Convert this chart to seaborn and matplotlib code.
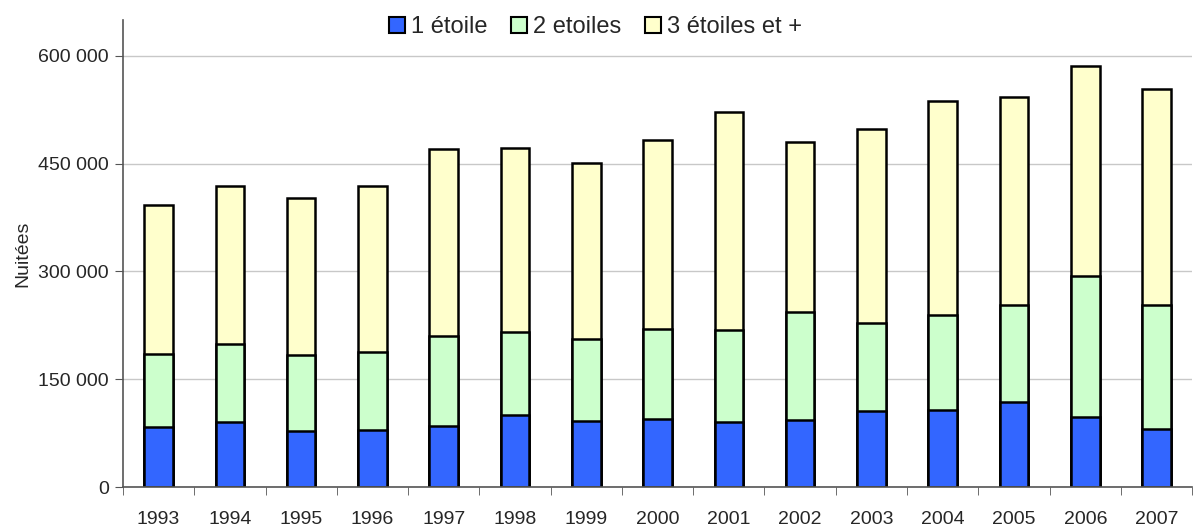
import matplotlib
matplotlib.use("Agg")
import matplotlib.pyplot as plt
import matplotlib.ticker as mticker
import pandas as pd
import seaborn as sns

years = ["1993", "1994", "1995", "1996", "1997", "1998", "1999", "2000",
         "2001", "2002", "2003", "2004", "2005", "2006", "2007"]
une_etoile = [83500, 90500, 78000, 78900, 84900, 99800, 91900, 95100,
              90500, 93700, 105300, 107600, 118300, 97400, 81200]
deux_etoiles = [101200, 109000, 106200, 109100, 125300, 116000, 114600, 124400,
                127600, 149900, 123000, 131800, 135000, 196300, 171700]
trois_etoiles = [207300, 219000, 218600, 230500, 260300, 255600, 244500, 263500,
                 303900, 236600, 270500, 297400, 290000, 292300, 301600]
labels = ["1 étoile", "2 etoiles", "3 étoiles et +"]
colors = ["#3366FF", "#CCFFCC", "#FFFFCC"]

df = pd.DataFrame({"annee": years, "e1": une_etoile, "e2": deux_etoiles, "e3": trois_etoiles})
df["c1"] = df["e1"]
df["c2"] = df["e1"] + df["e2"]
df["c3"] = df["c2"] + df["e3"]

sns.set_style("white")
plt.rcParams["font.family"] = ["Liberation Sans", "DejaVu Sans"]

fig = plt.figure(figsize=(11.96, 5.26), dpi=100)
ax = fig.add_axes([0.1028, 0.0741, 0.894, 0.888])

# stacked: draw cumulative totals from the top down
for col, c in zip(["c3", "c2", "c1"], colors[::-1]):
    sns.barplot(data=df, x="annee", y=col, color=c, width=0.4,
                edgecolor="black", linewidth=1.8, saturation=1, ax=ax)

ax.set_ylim(0, 650000)
ax.set_xlim(-0.5, len(years) - 0.5)
ax.set_yticks([0, 150000, 300000, 450000, 600000])
ax.yaxis.set_major_formatter(mticker.FuncFormatter(lambda v, p: f"{int(v):,}".replace(",", " ")))
ax.yaxis.grid(True, color="#c8c8c8", linewidth=1)
ax.set_axisbelow(True)

ax.set_xticks([i + 0.5 for i in range(-1, len(years))], minor=True)
ax.tick_params(axis="x", which="major", length=0, labelsize=14, pad=17)
ax.tick_params(axis="x", which="minor", length=6, color="#555555", direction="out")
ax.tick_params(axis="y", length=6, color="#555555", labelsize=14, direction="out", pad=4)
ax.xaxis.set_ticks_position("bottom")
ax.yaxis.set_ticks_position("left")

for s in ["top", "right"]:
    ax.spines[s].set_visible(False)
ax.spines["left"].set_color("#555555")
ax.spines["bottom"].set_color("#555555")
ax.spines["left"].set_linewidth(1.2)
ax.spines["bottom"].set_linewidth(1.2)

ax.set_xlabel("")
ax.set_ylabel("Nuitées", fontsize=14, labelpad=5)

handles = [plt.Rectangle((0, 0), 1, 1, facecolor=c, edgecolor="black", linewidth=1.5) for c in colors]
fig.legend(handles, labels, loc="center", bbox_to_anchor=(0.498, 0.948), ncol=3,
           frameon=False, fontsize=17, handlelength=0.68, handleheight=0.68,
           handletextpad=0.25, columnspacing=1.0)

fig.savefig("out.png", dpi=100)
